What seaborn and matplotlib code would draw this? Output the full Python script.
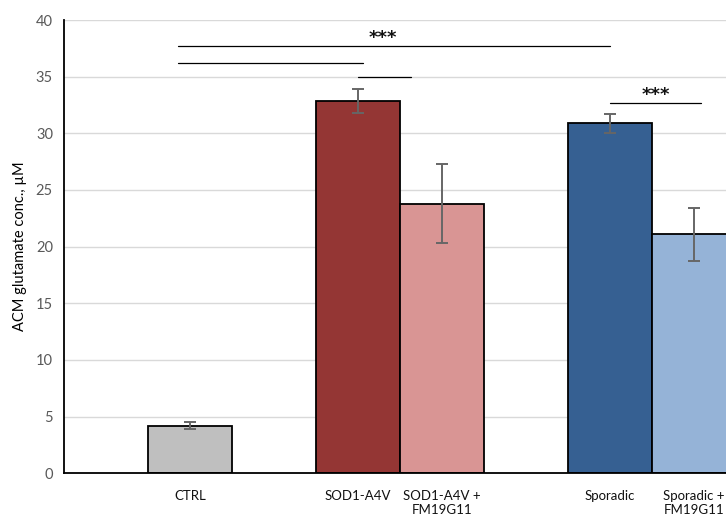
import matplotlib
matplotlib.use("Agg")
import matplotlib.pyplot as plt
import seaborn as sns
import pandas as pd

categories = ["CTRL", "SOD1-A4V", "SOD1-A4V +\nFM19G11", "Sporadic", "Sporadic +\nFM19G11"]
values = [4.2, 32.85, 23.8, 30.9, 21.1]
errors = [0.3, 1.05, 3.5, 0.83, 2.35]
colors = ["#BFBFBF", "#943634", "#D99594", "#366092", "#95B3D7"]
order = ["CTRL", " ", "SOD1-A4V", "SOD1-A4V +\nFM19G11", "  ", "Sporadic", "Sporadic +\nFM19G11"]
yticks = [0, 5, 10, 15, 20, 25, 30, 35, 40]
# significance brackets: (x start, x end, y) in data units
brackets = [(-0.14, 5.0, 37.7), (-0.14, 2.06, 36.25), (2.0, 2.63, 34.95), (5.0, 6.08, 32.7)]
stars = [(2.29, 38.4, "***"), (5.54, 33.35, "***")]

sns.set_theme(style="white")
plt.rcParams['font.family'] = ['Lato', 'DejaVu Sans']

df = pd.DataFrame({"cat": categories, "val": values})

fig = plt.figure(figsize=(7.26, 5.17), dpi=100)
ax = fig.add_axes([0.0882, 0.0845, 0.9118, 0.8768])

sns.barplot(data=df, x="cat", y="val", hue="cat", order=order,
            palette=dict(zip(categories, colors)), saturation=1, width=1.0, errorbar=None,
            edgecolor="black", linewidth=1.3, legend=False, ax=ax, zorder=3)

# error bars placed at bar centers
bars = [p for p in ax.patches if p.get_height() > 0]
bars.sort(key=lambda p: p.get_x())
xs = [p.get_x() + p.get_width() / 2 for p in bars]
ax.errorbar(xs, values, yerr=errors, fmt="none", ecolor="#666666",
            elinewidth=1.4, capsize=4.5, capthick=1.4, zorder=4)

ax.set_ylim(0, 40)
ax.set_yticks(yticks)
ax.set_xlim(-1.5, 6.38)
ax.yaxis.grid(True, color="#D9D9D9", linewidth=1.0, zorder=0)
ax.set_axisbelow(True)

for s in ["top", "right"]:
    ax.spines[s].set_visible(False)
for s in ["left", "bottom"]:
    ax.spines[s].set_visible(True)
    ax.spines[s].set_color("black")
    ax.spines[s].set_linewidth(1.3)
ax.spines["left"].set_zorder(5)
ax.spines["bottom"].set_zorder(5)

ax.tick_params(axis="y", length=0, pad=8, labelsize=10.5, labelcolor="#595959")
ax.tick_params(axis="x", length=0, pad=12, labelsize=9.5)
for lab in ax.get_xticklabels():
    lab.set_color("#111111")
ax.set_xlabel("")
ax.set_ylabel("ACM glutamate conc., µM", fontsize=10.5, color="black", labelpad=6)

for x0, x1, y in brackets:
    ax.plot([x0, x1], [y, y], color="black", linewidth=0.9, zorder=6, clip_on=False)
for x, y, t in stars:
    ax.text(x, y, t, ha="center", va="center", fontsize=13, fontweight="bold",
            family="DejaVu Sans", color="#111111", zorder=6)

fig.savefig("out.png", dpi=100)
